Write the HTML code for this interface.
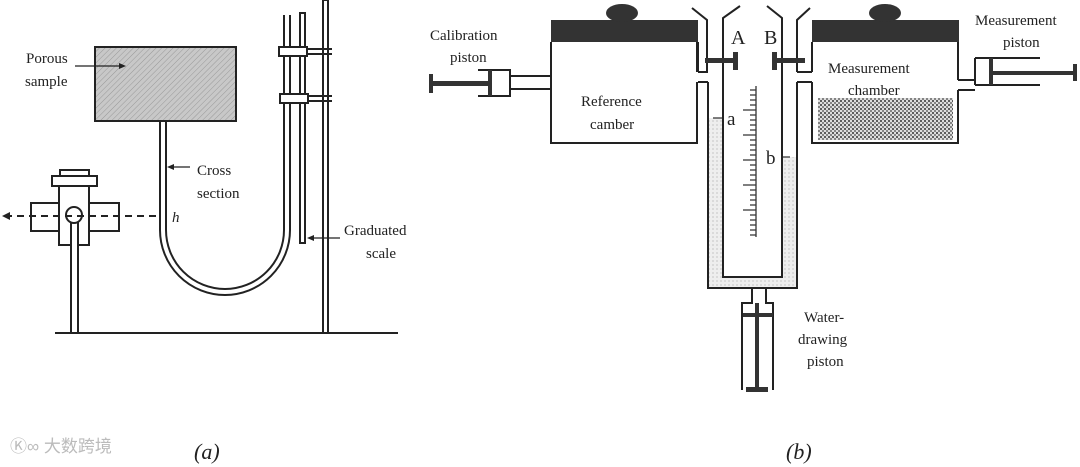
<!DOCTYPE html>
<html><head><meta charset="utf-8"><style>
html,body{margin:0;padding:0;background:#fff;width:1080px;height:467px;overflow:hidden}
svg{display:block}
text{font-family:"Liberation Serif",serif;fill:#222}
</style></head><body>
<svg width="1080" height="467" viewBox="0 0 1080 467" xmlns="http://www.w3.org/2000/svg">
<defs>
<pattern id="hatch" width="4" height="4" patternUnits="userSpaceOnUse" patternTransform="rotate(45)">
<rect width="4" height="4" fill="#c8c8c8"/><line x1="0" y1="0" x2="0" y2="4" stroke="#999" stroke-width="1"/></pattern>
<pattern id="dots" width="4" height="4" patternUnits="userSpaceOnUse">
<rect width="4" height="4" fill="#ddd"/><circle cx="1" cy="1" r="1" fill="#333"/><circle cx="3" cy="3" r="0.9" fill="#444"/></pattern>
<pattern id="water" width="4" height="4" patternUnits="userSpaceOnUse">
<rect width="4" height="4" fill="#eee"/><circle cx="1" cy="1" r="0.6" fill="#aaa"/></pattern>
</defs>
<g stroke="#222" stroke-width="2" fill="none">
<!-- (a) -->
<rect x="95" y="47" width="141" height="74" fill="url(#hatch)"/>
<path d="M160 121 V230 A65 65 0 0 0 290 230 V15 M166 121 V230 A59 59 0 0 0 284 230 V15" />
<rect x="300" y="13" width="5" height="230" />
<rect x="323" y="0" width="5" height="333" fill="#fff"/>
<rect x="279" y="47" width="28" height="9" fill="#fff"/><path d="M307 49 H332 M307 54 H332"/>
<rect x="280" y="94" width="28" height="9" fill="#fff"/><path d="M308 96 H332 M308 101 H332"/>
<line x1="55" y1="333" x2="398" y2="333"/>
<rect x="31" y="203" width="88" height="28" fill="#fff"/>
<rect x="59" y="178" width="30" height="67" fill="#fff"/>
<rect x="52" y="176" width="45" height="10" fill="#fff"/>
<rect x="60" y="170" width="29" height="6" fill="#fff"/>
<rect x="71" y="215" width="7" height="118" fill="#fff"/>
<circle cx="74" cy="215" r="8" fill="#fff"/>
<path d="M5 216 H160" stroke-dasharray="7,5"/>
<path d="M75 66 H122" stroke-width="1.3"/><path d="M170 167 H190" stroke-width="1.3"/><path d="M310 238 H340" stroke-width="1.3"/>
</g>
<path d="M2 216 L10 212 L10 220Z" fill="#222"/>
<path d="M126 66 L119 63 L119 69Z" fill="#222"/>
<path d="M167 167 L174 164 L174 170Z" fill="#222"/>
<path d="M307 238 L314 235 L314 241Z" fill="#222"/>
<g font-size="15">
<text x="26" y="63">Porous</text><text x="25" y="86">sample</text>
<text x="197" y="175">Cross</text><text x="197" y="198">section</text>
<text x="172" y="222" font-style="italic">h</text>
<text x="344" y="235">Graduated</text><text x="366" y="258">scale</text>
</g>
<!-- (b) -->
<rect x="709" y="118" width="13" height="170" fill="url(#water)"/>
<rect x="783" y="157" width="14" height="131" fill="url(#water)"/>
<rect x="709" y="277" width="88" height="11" fill="url(#water)"/>
<rect x="818" y="98" width="135" height="42" fill="url(#dots)"/>
<g stroke="#222" stroke-width="2" fill="none">
<path d="M551 42 V143 H697 V82 M697 72 V42"/>
<path d="M812 42 V72 M812 82 V143 H958 V90 M958 80 V42"/>
<path d="M698 72 H708 M698 82 H708 M698 42 V72"/>
<path d="M692 8 L707 20 V72 M708 82 V288 H797 V82 M740 6 L723 18 V277 H782 V18 L767 6 M810 8 L797 20 V72 M797 72 H812 M797 82 H812"/>
<path d="M752 288 V303 H742 V390 M766 288 V303 H773 V390"/>
<path d="M510 76 H551 M510 89 H551"/>
<path d="M478 70 H510 V96 H478"/>
<path d="M958 80 H975 M958 90 H975 M975 58 H1040 M975 85 H1040 M975 58 V85"/>
</g>
<rect x="551" y="20" width="147" height="22" fill="#333"/>
<rect x="812" y="20" width="147" height="22" fill="#333"/>
<ellipse cx="622" cy="13" rx="16" ry="9" fill="#333"/>
<ellipse cx="885" cy="13" rx="16" ry="9" fill="#333"/>
<rect x="705" y="58" width="30" height="5" fill="#333"/><rect x="733" y="52" width="5" height="18" fill="#333"/>
<rect x="772" y="58" width="33" height="5" fill="#333"/><rect x="772" y="52" width="5" height="18" fill="#333"/>
<rect x="432" y="81" width="58" height="5" fill="#333"/><rect x="429" y="74" width="4" height="19" fill="#333"/><rect x="488" y="70" width="4" height="26" fill="#333"/>
<rect x="990" y="71" width="85" height="4" fill="#333"/><rect x="1073" y="64" width="4" height="17" fill="#333"/><rect x="989" y="58" width="4" height="27" fill="#333"/>
<rect x="755" y="303" width="4" height="88" fill="#333"/><rect x="746" y="387" width="22" height="5" fill="#333"/><rect x="743" y="313" width="30" height="4" fill="#333"/>
<g stroke="#333" stroke-width="1.3">
<path d="M756 86V237 M750 90H756 M750 95H756 M750 100H756 M750 105H756 M743 110H756 M750 115H756 M750 120H756 M750 125H756 M750 130H756 M743 135H756 M750 140H756 M750 145H756 M750 150H756 M750 155H756 M743 160H756 M750 165H756 M750 170H756 M750 175H756 M750 180H756 M743 185H756 M750 190H756 M750 195H756 M750 200H756 M750 205H756 M743 210H756 M750 215H756 M750 220H756 M750 225H756 M750 230H756 M750 235H756" />
<path d="M713 118 H722 M783 157 H790"/>
</g>
<g font-size="15">
<text x="430" y="40">Calibration</text><text x="450" y="62">piston</text>
<text x="581" y="106">Reference</text><text x="590" y="129">camber</text>
<text x="731" y="44" font-size="20">A</text><text x="764" y="44" font-size="20">B</text>
<text x="727" y="125" font-size="19">a</text><text x="766" y="164" font-size="19">b</text>
<text x="828" y="73">Measurement</text><text x="848" y="95">chamber</text>
<text x="975" y="25">Measurement</text><text x="1003" y="47">piston</text>
<text x="804" y="322">Water-</text><text x="798" y="344">drawing</text><text x="807" y="366">piston</text>
</g>
<text x="194" y="459" font-size="22" font-style="italic">(a)</text>
<text x="786" y="459" font-size="22" font-style="italic">(b)</text>
<text x="10" y="452" font-size="17" style="fill:#bbb;font-family:'Liberation Sans','Noto Sans CJK SC',sans-serif">Ⓚ∞ 大数跨境</text>
</svg>
</body></html>
